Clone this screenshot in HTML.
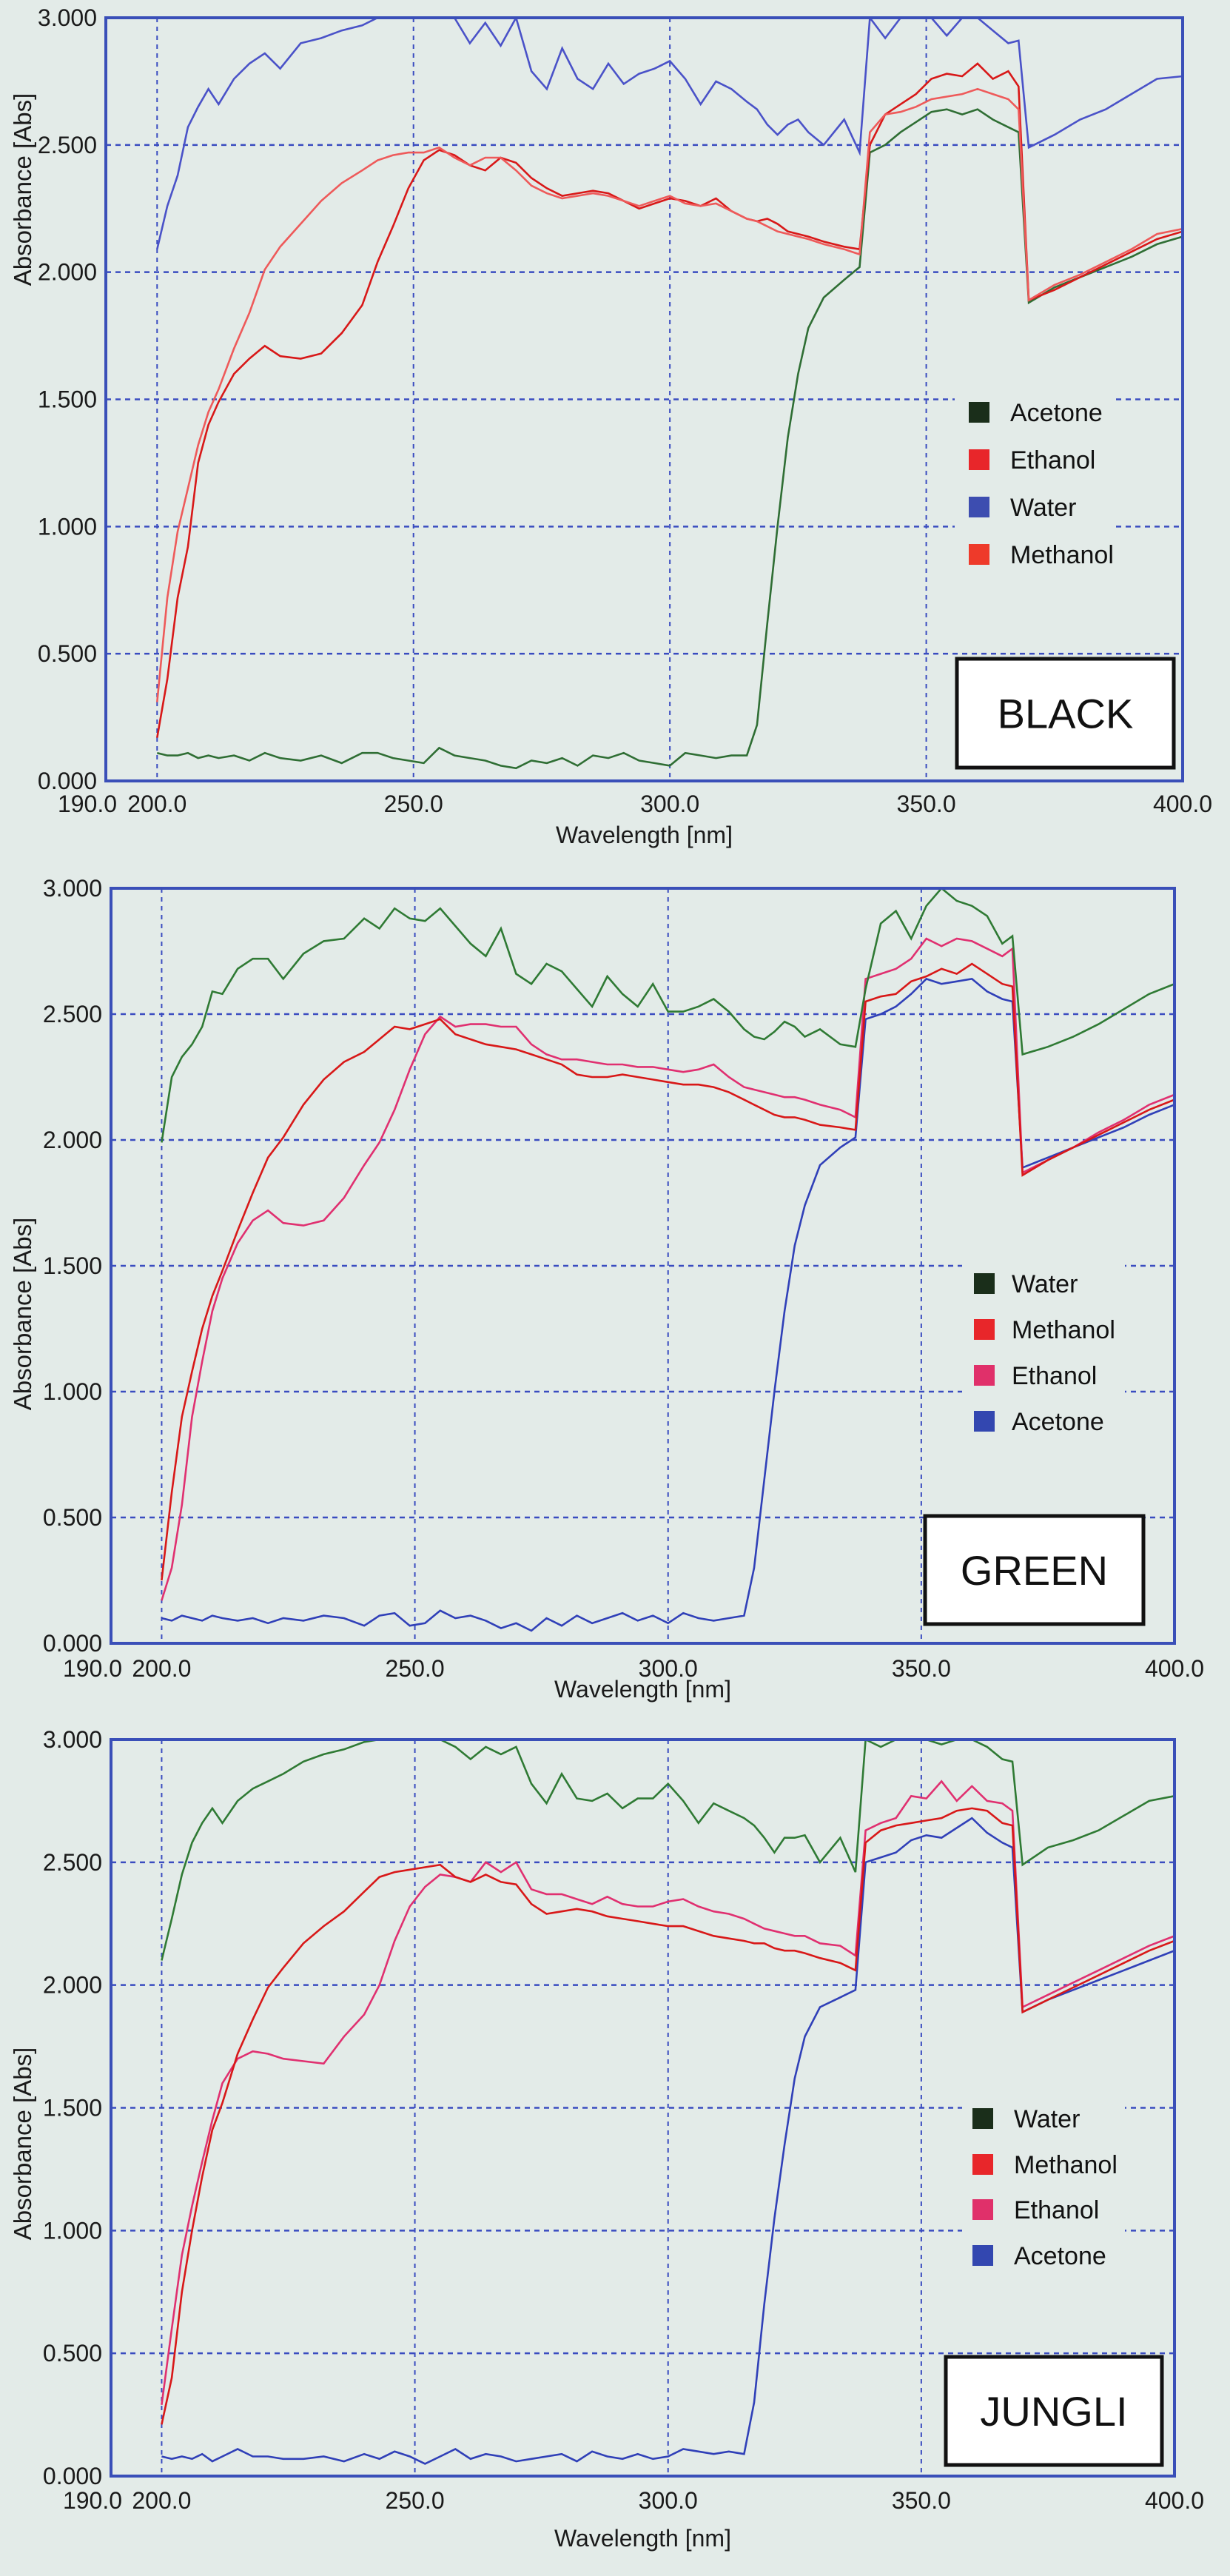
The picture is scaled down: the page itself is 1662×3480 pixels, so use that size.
<!DOCTYPE html>
<html><head><meta charset="utf-8"><style>
html,body{margin:0;padding:0;background:#e3ebe8;}
svg{display:block;font-family:"Liberation Sans",Arial,sans-serif;}
</style></head><body>
<svg id="root" width="1662" height="3480" viewBox="0 0 1662 3480" xmlns="http://www.w3.org/2000/svg">
<rect x="0" y="0" width="1662" height="3480" fill="#e3ebe8"/>
</svg>
<script>
const wavelengths=[200,202,204,206,208,210,212,215,218,221,224,228,232,236,240,243,246,249,252,255,258,261,264,267,270,273,276,279,282,285,288,291,294,297,300,303,306,309,312,315,317,319,321,323,325,327,330,334,337,339,342,345,348,351,354,357,360,363,366,368,370,375,380,385,390,395,400];
const xTicks=[190,200,250,300,350,400];
const xTickLabels=["190.0","200.0","250.0","300.0","350.0","400.0"];
const yTicks=[0,0.5,1,1.5,2,2.5,3];
const yTickLabels=["0.000","0.500","1.000","1.500","2.000","2.500","3.000"];

const blackWater=[2.09,2.26,2.38,2.57,2.65,2.72,2.66,2.76,2.82,2.86,2.80,2.90,2.92,2.95,2.97,3.0,3.0,3.0,3.0,3.0,3.0,2.90,2.98,2.89,3.0,2.79,2.72,2.88,2.76,2.72,2.82,2.74,2.78,2.80,2.83,2.76,2.66,2.75,2.72,2.67,2.64,2.58,2.54,2.58,2.60,2.55,2.50,2.60,2.47,3.0,2.92,3.0,3.0,3.0,2.93,3.0,3.0,2.95,2.90,2.91,2.49,2.54,2.60,2.64,2.70,2.76,2.77];
const blackMethanol=[0.31,0.72,0.98,1.15,1.32,1.45,1.54,1.70,1.84,2.01,2.10,2.19,2.28,2.35,2.40,2.44,2.46,2.47,2.47,2.49,2.45,2.42,2.45,2.45,2.40,2.34,2.31,2.29,2.30,2.31,2.30,2.28,2.26,2.28,2.30,2.27,2.26,2.27,2.24,2.21,2.20,2.18,2.16,2.15,2.14,2.13,2.11,2.09,2.07,2.55,2.62,2.63,2.65,2.68,2.69,2.70,2.72,2.70,2.68,2.64,1.89,1.95,1.99,2.04,2.09,2.15,2.17];
const blackEthanol=[0.17,0.40,0.72,0.92,1.25,1.40,1.49,1.60,1.66,1.71,1.67,1.66,1.68,1.76,1.87,2.04,2.18,2.33,2.44,2.48,2.46,2.42,2.40,2.45,2.43,2.37,2.33,2.30,2.31,2.32,2.31,2.28,2.25,2.27,2.29,2.28,2.26,2.29,2.24,2.21,2.20,2.21,2.19,2.16,2.15,2.14,2.12,2.10,2.09,2.50,2.62,2.66,2.70,2.76,2.78,2.77,2.82,2.76,2.79,2.73,1.89,1.93,1.98,2.03,2.08,2.13,2.16];
const blackAcetone=[0.11,0.10,0.10,0.11,0.09,0.10,0.09,0.10,0.08,0.11,0.09,0.08,0.10,0.07,0.11,0.11,0.09,0.08,0.07,0.13,0.10,0.09,0.08,0.06,0.05,0.08,0.07,0.09,0.06,0.10,0.09,0.11,0.08,0.07,0.06,0.11,0.10,0.09,0.10,0.10,0.22,0.62,1.00,1.35,1.60,1.78,1.90,1.97,2.02,2.47,2.50,2.55,2.59,2.63,2.64,2.62,2.64,2.60,2.57,2.55,1.88,1.94,1.98,2.02,2.06,2.11,2.14];

const greenWater=[1.99,2.25,2.33,2.38,2.45,2.59,2.58,2.68,2.72,2.72,2.64,2.74,2.79,2.80,2.88,2.84,2.92,2.88,2.87,2.92,2.85,2.78,2.73,2.84,2.66,2.62,2.70,2.67,2.60,2.53,2.65,2.58,2.53,2.62,2.51,2.51,2.53,2.56,2.51,2.44,2.41,2.40,2.43,2.47,2.45,2.41,2.44,2.38,2.37,2.60,2.86,2.91,2.80,2.93,3.0,2.95,2.93,2.89,2.78,2.81,2.34,2.37,2.41,2.46,2.52,2.58,2.62];
const greenMethanol=[0.25,0.60,0.90,1.08,1.25,1.38,1.48,1.64,1.79,1.93,2.01,2.14,2.24,2.31,2.35,2.40,2.45,2.44,2.46,2.48,2.42,2.40,2.38,2.37,2.36,2.34,2.32,2.30,2.26,2.25,2.25,2.26,2.25,2.24,2.23,2.22,2.22,2.21,2.19,2.16,2.14,2.12,2.10,2.09,2.09,2.08,2.06,2.05,2.04,2.55,2.57,2.58,2.63,2.65,2.68,2.66,2.70,2.66,2.62,2.61,1.86,1.92,1.97,2.02,2.07,2.12,2.16];
const greenEthanol=[0.17,0.30,0.55,0.90,1.12,1.32,1.45,1.59,1.68,1.72,1.67,1.66,1.68,1.77,1.90,1.99,2.12,2.28,2.42,2.49,2.45,2.46,2.46,2.45,2.45,2.38,2.34,2.32,2.32,2.31,2.30,2.30,2.29,2.29,2.28,2.27,2.28,2.30,2.25,2.21,2.20,2.19,2.18,2.17,2.17,2.16,2.14,2.12,2.09,2.64,2.66,2.68,2.72,2.80,2.77,2.80,2.79,2.76,2.73,2.76,1.87,1.92,1.97,2.03,2.08,2.14,2.18];
const greenAcetone=[0.10,0.09,0.11,0.10,0.09,0.11,0.10,0.09,0.10,0.08,0.10,0.09,0.11,0.10,0.07,0.11,0.12,0.07,0.08,0.13,0.10,0.11,0.09,0.06,0.08,0.05,0.10,0.07,0.11,0.08,0.10,0.12,0.09,0.11,0.08,0.12,0.10,0.09,0.10,0.11,0.30,0.65,1.00,1.32,1.58,1.74,1.90,1.97,2.01,2.48,2.50,2.53,2.58,2.64,2.62,2.63,2.64,2.59,2.56,2.55,1.89,1.93,1.97,2.01,2.05,2.10,2.14];

const jungliWater=[2.10,2.27,2.45,2.58,2.66,2.72,2.66,2.75,2.80,2.83,2.86,2.91,2.94,2.96,2.99,3.0,3.0,3.0,3.0,3.0,2.97,2.92,2.97,2.94,2.97,2.82,2.74,2.86,2.76,2.75,2.78,2.72,2.76,2.76,2.82,2.75,2.66,2.74,2.71,2.68,2.65,2.60,2.54,2.60,2.60,2.61,2.50,2.60,2.46,3.0,2.97,3.0,3.0,3.0,2.98,3.0,3.0,2.97,2.92,2.91,2.49,2.56,2.59,2.63,2.69,2.75,2.77];
const jungliMethanol=[0.21,0.40,0.75,1.00,1.22,1.41,1.52,1.72,1.86,1.99,2.07,2.17,2.24,2.30,2.38,2.44,2.46,2.47,2.48,2.49,2.44,2.42,2.45,2.42,2.41,2.33,2.29,2.30,2.31,2.30,2.28,2.27,2.26,2.25,2.24,2.24,2.22,2.20,2.19,2.18,2.17,2.17,2.15,2.14,2.14,2.13,2.11,2.09,2.06,2.58,2.63,2.65,2.66,2.67,2.68,2.71,2.72,2.71,2.66,2.65,1.89,1.94,1.99,2.04,2.09,2.14,2.18];
const jungliEthanol=[0.29,0.60,0.90,1.10,1.28,1.45,1.60,1.70,1.73,1.72,1.70,1.69,1.68,1.79,1.88,2.00,2.18,2.32,2.40,2.45,2.44,2.42,2.50,2.46,2.50,2.39,2.37,2.37,2.35,2.33,2.36,2.33,2.32,2.32,2.34,2.35,2.32,2.30,2.29,2.27,2.25,2.23,2.22,2.21,2.20,2.20,2.17,2.16,2.12,2.63,2.66,2.68,2.77,2.76,2.83,2.75,2.81,2.75,2.74,2.71,1.91,1.96,2.01,2.06,2.11,2.16,2.20];
const jungliAcetone=[0.08,0.07,0.08,0.07,0.09,0.06,0.08,0.11,0.08,0.08,0.07,0.07,0.08,0.06,0.09,0.07,0.10,0.08,0.05,0.08,0.11,0.07,0.09,0.08,0.06,0.07,0.08,0.09,0.06,0.10,0.08,0.07,0.09,0.07,0.08,0.11,0.10,0.09,0.10,0.09,0.30,0.70,1.05,1.35,1.62,1.79,1.91,1.95,1.98,2.50,2.52,2.54,2.59,2.61,2.60,2.64,2.68,2.62,2.58,2.56,1.89,1.94,1.98,2.02,2.06,2.10,2.14];

const NS="http://www.w3.org/2000/svg";
const root=document.getElementById('root');
function mk(tag,attrs,parent){const e=document.createElementNS(NS,tag);for(const k in attrs)e.setAttribute(k,attrs[k]);(parent||root).appendChild(e);return e;}

const charts=[
 {key:'black',label:'BLACK',L:143,R:1598,T:24,B:1055,xLabY:1097,xTitleY:1139,yTitleY:256,
  box:[1293,890,293,147],legX:1309,legTextX:1365,legY:[557,621,685,749],legBg:[1290,520,215,270],
  series:[['Acetone',blackAcetone,'#2f6e34','#1a2e1a'],['Ethanol',blackEthanol,'#d81818','#e8262a'],['Water',blackWater,'#4a52c8','#3d4db0'],['Methanol',blackMethanol,'#ee5a5a','#ee3a2a']]},
 {key:'green',label:'GREEN',L:150,R:1587,T:1200,B:2220,xLabY:2265,xTitleY:2293,yTitleY:1775,
  box:[1250,2048,295,146],legX:1316,legTextX:1367,legY:[1734,1796,1858,1920],legBg:[1300,1695,220,260],
  series:[['Acetone',greenAcetone,'#3040b8','#3347b0'],['Ethanol',greenEthanol,'#e03070','#e0306a'],['Methanol',greenMethanol,'#d81818','#e8262a'],['Water',greenWater,'#2f7a34','#1a2e1a']],
  legendOrder:['Water','Methanol','Ethanol','Acetone']},
 {key:'jungli',label:'JUNGLI',L:150,R:1587,T:2350,B:3345,xLabY:3389,xTitleY:3440,yTitleY:2896,
  box:[1278,3184,292,146],legX:1314,legTextX:1370,legY:[2862,2924,2985,3047],legBg:[1300,2825,220,260],
  series:[['Acetone',jungliAcetone,'#3040b8','#3347b0'],['Ethanol',jungliEthanol,'#e03070','#e0306a'],['Methanol',jungliMethanol,'#d81818','#e8262a'],['Water',jungliWater,'#2f7a34','#1a2e1a']],
  legendOrder:['Water','Methanol','Ethanol','Acetone']}
];

charts.forEach(c=>{
  const g=mk('g',{});
  
  
  const xs=v=>c.L+(v-190)/(400-190)*(c.R-c.L);
  const ys=v=>c.B-(v/3)*(c.B-c.T);
  [200,250,300,350].forEach(v=>{
    const l=mk('line',{x1:xs(v),x2:xs(v),y1:c.T,y2:c.B,stroke:'#3a4cc0','stroke-width':2,'stroke-dasharray':'6 6'},g);
    
    
  });
  [0.5,1,1.5,2,2.5].forEach(v=>{
    const l=mk('line',{x1:c.L,x2:c.R,y1:ys(v),y2:ys(v),stroke:'#3a4cc0','stroke-width':2.5,'stroke-dasharray':'7 6'},g);
    
    
  });
  const lb=mk('rect',{x:c.legBg[0],y:c.legBg[1],width:c.legBg[2],height:c.legBg[3],fill:'#e3ebe8'},g);
  
  
  const cp=mk('clipPath',{id:'clip-'+c.key},g);
  mk('rect',{x:c.L,y:c.T-2,width:c.R-c.L,height:c.B-c.T+2},cp);
  const sg=mk('g',{'clip-path':'url(#clip-'+c.key+')'},g);
  c.series.forEach(s=>{
    const pts=s[1].map((v,i)=>xs(wavelengths[i]).toFixed(1)+','+ys(v).toFixed(1)).join(' ');
    const p=mk('polyline',{points:pts,fill:'none',stroke:s[2],'stroke-width':2.6,'stroke-linejoin':'miter'},sg);
    
    
  });
  const fr=mk('rect',{x:c.L,y:c.T,width:c.R-c.L,height:c.B-c.T,fill:'none',stroke:'#3a4fb8','stroke-width':4},g);
  
  
  yTicks.forEach((v,i)=>{
    const t=mk('text',{x:c.L-12,y:ys(v)+11,'text-anchor':'end','font-size':32,fill:'#1a1a1a'},g);
    t.textContent=yTickLabels[i];
    
    
  });
  xTicks.forEach((v,i)=>{
    const off=(v===190)?-25:0;
    const t=mk('text',{x:xs(v)+off,y:c.xLabY,'text-anchor':'middle','font-size':32,fill:'#1a1a1a'},g);
    t.textContent=xTickLabels[i];
    
    
  });
  const xt=mk('text',{x:(c.L+c.R)/2,y:c.xTitleY,'text-anchor':'middle','font-size':32,fill:'#1a1a1a'},g);
  xt.textContent='Wavelength [nm]';
  
  
  const yt=mk('text',{x:0,y:0,'text-anchor':'middle','font-size':33,fill:'#1a1a1a',transform:'translate(42,'+c.yTitleY+') rotate(-90)'},g);
  yt.textContent='Absorbance [Abs]';
  
  
  const order=c.legendOrder||c.series.map(s=>s[0]);
  order.forEach((name,i)=>{
    const s=c.series.find(q=>q[0]===name);
    const sq=mk('rect',{x:c.legX,y:c.legY[i]-14,width:28,height:28,fill:s[3]},g);
    
    
    const t=mk('text',{x:c.legTextX,y:c.legY[i]+12,'font-size':34,fill:'#111'},g);
    t.textContent=name;
    
    
  });
  const bx=mk('rect',{x:c.box[0],y:c.box[1],width:c.box[2],height:c.box[3],fill:'#fff',stroke:'#111','stroke-width':5},g);
  
  
  const bt=mk('text',{x:c.box[0]+c.box[2]/2,y:c.box[1]+c.box[3]/2+20,'text-anchor':'middle','font-size':56,fill:'#111'},g);
  bt.textContent=c.label;
  
  
});
</script>
</body></html>
